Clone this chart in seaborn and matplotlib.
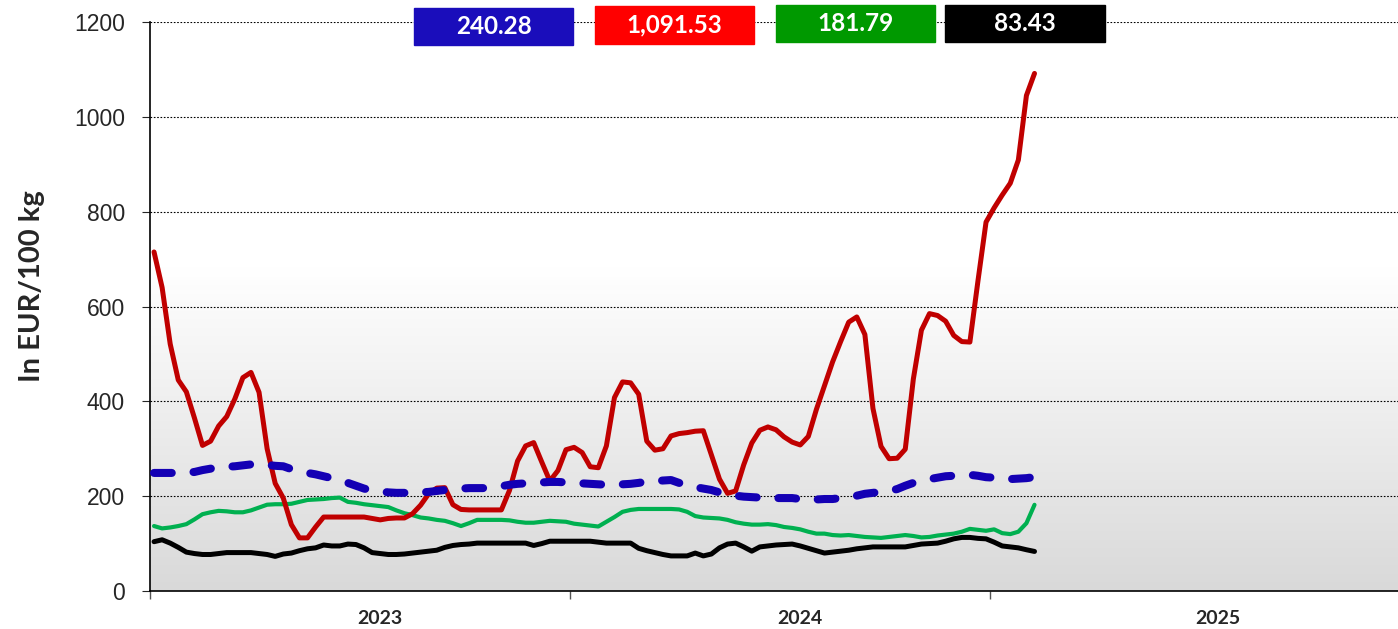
import numpy as np
import pandas as pd
import matplotlib
matplotlib.use("Agg")
import matplotlib.pyplot as plt
from matplotlib.patches import Rectangle
import seaborn as sns

# weekly prices, 2023 week 1 .. 2025 week 6 (EUR/100 kg)
week_no = np.arange(1, 111)

blue_vals = [249, 249, 249, 249, 250, 251, 255, 258, 261, 262,
             263, 265, 267, 267, 266, 264, 263, 257, 253, 249,
             246, 242, 238, 233, 228, 222, 216, 212, 210, 208,
             207, 207, 207, 208, 209, 211, 213, 214, 216, 217,
             217, 217, 218, 221, 224, 226, 227, 228, 229, 230,
             230, 229, 228, 227, 226, 225, 224, 225, 225, 226,
             228, 231, 232, 233, 234, 228, 223, 219, 216, 213,
             208, 204, 201, 199, 198, 197, 196, 196, 196, 196,
             194, 192, 193, 194, 194, 196, 198, 201, 205, 207,
             209, 211, 215, 222, 228, 232, 236, 239, 242, 243,
             244, 245, 243, 240, 239, 237, 236, 237, 238, 240.28]

red_vals = [715, 640, 521, 445, 420, 365, 307, 316, 348, 368,
            405, 450, 461, 419, 300, 227, 196, 140, 112, 112,
            135, 156, 156, 156, 156, 156, 156, 153, 150, 153,
            154, 154, 163, 181, 205, 217, 218, 182, 172, 171,
            171, 171, 171, 171, 212, 274, 306, 313, 272, 232,
            254, 298, 303, 292, 262, 260, 306, 408, 441, 439,
            415, 316, 297, 300, 327, 332, 334, 337, 338, 287,
            236, 206, 211, 266, 312, 339, 346, 340, 325, 314,
            308, 326, 383, 433, 483, 526, 567, 578, 541, 385,
            305, 279, 280, 299, 447, 550, 585, 581, 569, 539,
            526, 525, 654, 778, 808, 835, 860, 909, 1045, 1091.53]

green_vals = [137, 132, 134, 137, 141, 151, 162, 166, 169, 168,
              166, 166, 170, 176, 182, 183, 183, 184, 188, 192,
              193, 194, 196, 197, 188, 186, 183, 181, 179, 177,
              170, 164, 160, 155, 153, 150, 148, 143, 137, 143,
              150, 150, 150, 150, 149, 146, 144, 144, 146, 148,
              147, 146, 142, 140, 138, 136, 146, 156, 167, 171,
              173, 173, 173, 173, 173, 172, 167, 158, 155, 154,
              153, 150, 145, 142, 140, 140, 141, 139, 135, 133,
              130, 125, 121, 121, 118, 117, 118, 116, 114, 113,
              112, 114, 116, 118, 116, 113, 114, 117, 119, 121,
              125, 131, 129, 127, 130, 122, 120, 125, 143, 181.79]

black_vals = [104, 108, 101, 92, 82, 79, 77, 77, 79, 81,
              81, 81, 81, 79, 77, 73, 78, 80, 85, 89,
              91, 97, 95, 95, 99, 98, 91, 81, 79, 77,
              77, 78, 80, 82, 84, 86, 92, 96, 98, 99,
              101, 101, 101, 101, 101, 101, 101, 96, 100, 105,
              105, 105, 105, 105, 105, 103, 101, 101, 101, 101,
              90, 85, 81, 77, 74, 74, 74, 80, 74, 78,
              91, 99, 101, 93, 84, 93, 95, 97, 98, 99,
              95, 90, 85, 80, 82, 84, 86, 89, 91, 93,
              93, 93, 93, 93, 96, 99, 100, 101, 105, 110,
              113, 113, 111, 110, 103, 95, 93, 91, 87, 83.43]

years = ["2023", "2024", "2025"]
year_starts = [0, 52, 104]
year_label_pos = [28.5, 80.5, 132.2]
y_ticks = [0, 200, 400, 600, 800, 1000, 1200]

df = pd.DataFrame({"week": week_no - 0.5, "blue": blue_vals, "red": red_vals,
                   "green": green_vals, "black": black_vals})

sns.set_style("white")
plt.rcParams["font.family"] = ["Liberation Sans", "DejaVu Sans"]

fig = plt.figure(figsize=(13.98, 6.29), dpi=100)
ax = fig.add_axes([150 / 1398, 1 - 591 / 629, 1 - 150 / 1398, (591 - 22) / 629])

# gradient background: light gray at bottom fading to white
v = np.linspace(0, 1200, 400)
shade = (217 + 38 * np.clip(v / 680, 0, 1)) / 255
grad = np.repeat(shade[:, None, None], 3, axis=2)
ax.imshow(grad, extent=[0, 154.5, 0, 1200], origin="lower", aspect="auto", zorder=0)

sns.lineplot(data=df, x="week", y="black", color="black", lw=3.6, ax=ax, zorder=3)
sns.lineplot(data=df, x="week", y="green", color="#00b050", lw=3.0, ax=ax, zorder=3)
sns.lineplot(data=df, x="week", y="red", color="#c00000", lw=3.6, ax=ax, zorder=3)
sns.lineplot(data=df, x="week", y="blue", color="#1400b4", lw=5.8, ax=ax, zorder=4,
             linestyle=(0, (2.2, 2.7)), dash_capstyle="round")

ax.set_xlim(0, 154.5)
ax.set_ylim(0, 1200)
ax.set_yticks(y_ticks)
ax.set_yticklabels([str(t) for t in y_ticks], fontsize=16.5)
for t in y_ticks[1:]:
    ax.axhline(t, color="black", lw=0.8, ls=(0, (1.5, 1.5)), zorder=1)

ax.set_xticks(year_starts)
ax.set_xticklabels([])
ax.set_xticks(year_label_pos, minor=True)
ax.set_xticklabels(years, minor=True, fontsize=14, fontweight="bold", family="Lato")
ax.tick_params(axis="x", which="minor", length=0, pad=14)
ax.tick_params(axis="x", which="major", length=6, width=1, color="#555555", direction="out", bottom=True)
ax.tick_params(axis="y", length=6, width=0.8, direction="out", left=True, pad=12)

ax.set_xlabel("")
ax.set_ylabel("In EUR/100 kg", fontsize=21, fontweight="bold", family="Lato")
ax.yaxis.set_label_coords(-105 / 1248, 0.535)

for s in ["top", "right"]:
    ax.spines[s].set_visible(False)
for s in ["left", "bottom"]:
    ax.spines[s].set_color("black")
    ax.spines[s].set_linewidth(1.2)

# value boxes at the top
boxes = [(414, 8, 159, 37, "#1a0dbb", blue_vals[-1]),
         (595, 6, 159, 38, "#ff0000", red_vals[-1]),
         (776, 5, 159, 37, "#009900", green_vals[-1]),
         (945, 5, 160, 37, "#000000", black_vals[-1])]
for x0, y0, w, h, col, val in boxes:
    fig.patches.append(Rectangle((x0 / 1398, 1 - (y0 + h) / 629), w / 1398, h / 629,
                                 transform=fig.transFigure, color=col, zorder=5))
    fig.text((x0 + w / 2) / 1398, 1 - (y0 + h / 2) / 629, f"{val:,.2f}", color="white",
             fontsize=17.5, fontweight="bold", family="Lato", ha="center", va="center", zorder=6)

fig.savefig("out.png", dpi=100)
